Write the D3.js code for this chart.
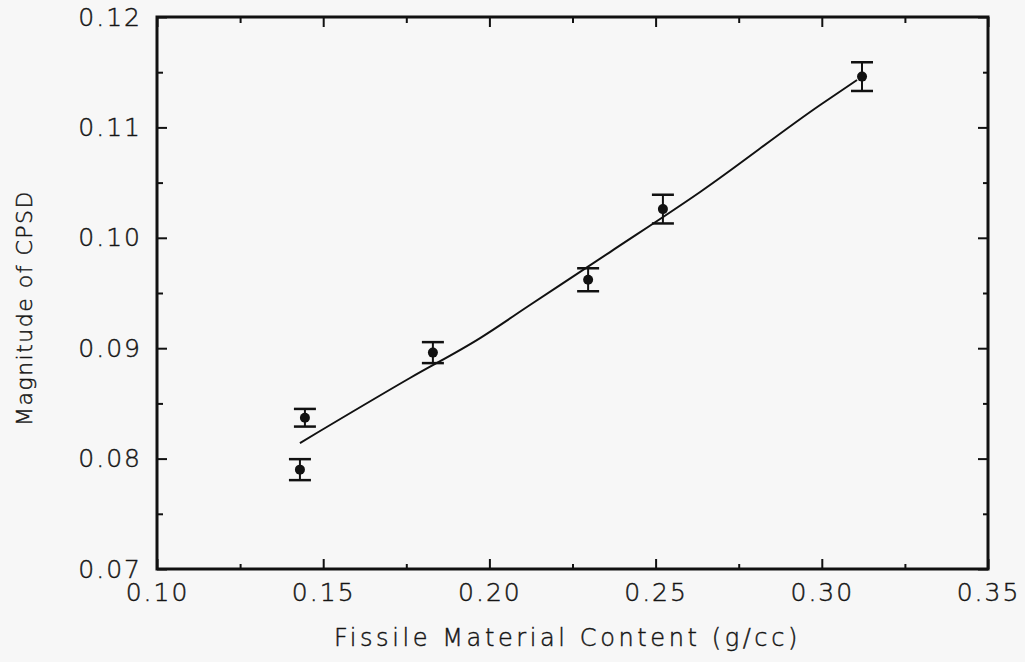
<!DOCTYPE html>
<html>
<head>
<meta charset="utf-8">
<script src="https://cdn.jsdelivr.net/npm/d3@7"></script>
<style>
  body { margin: 0; background: #f7f7f7; }
  svg { display: block; }
  text { font-family: "DejaVu Sans", sans-serif; font-weight: 200; fill: #151515; stroke: #151515; stroke-width: 0.45px; }
</style>
</head>
<body>
<svg id="chart" width="1025" height="662"></svg>
<script>
// measured points with error bars
var fissile = [0.1430, 0.1445, 0.1830, 0.2297, 0.2522, 0.3121];
var cpsd    = [0.0790, 0.0837, 0.0896, 0.0962, 0.1026, 0.1146];
var cpsdErr = [0.00095, 0.0008, 0.00095, 0.00104, 0.0013, 0.0013];

// fitted curve
var fitX = [0.1430, 0.1761, 0.1972, 0.2122, 0.2363, 0.2634, 0.2995, 0.3106];
var fitY = [0.08141, 0.08730, 0.09092, 0.09391, 0.09871, 0.10415, 0.11203, 0.11429];

var xTicks = [0.10, 0.15, 0.20, 0.25, 0.30, 0.35];
var xMinor = [0.125, 0.175, 0.225, 0.275, 0.325];
var yTicks = [0.07, 0.08, 0.09, 0.10, 0.11, 0.12];
var yMinor = [0.075, 0.085, 0.095, 0.105, 0.115];

var svg = d3.select("#chart"),
    margin = {top: 17, right: 37, bottom: 93, left: 157},
    width = +svg.attr("width") - margin.left - margin.right,
    height = +svg.attr("height") - margin.top - margin.bottom,
    g = svg.append("g").attr("transform", "translate(" + margin.left + "," + margin.top + ")");

var x = d3.scaleLinear().domain([0.10, 0.35]).range([0, width]);
var y = d3.scaleLinear().domain([0.07, 0.12]).range([height, 0]);

function styleAxis(sel) {
  sel.select(".domain").remove();
  sel.selectAll("line").attr("stroke", "#111").attr("stroke-width", 2);
  sel.selectAll("text")
    .style("font-size", "25px")
    .style("letter-spacing", "2px");
}

// major ticks + labels
g.append("g")
  .attr("transform", "translate(0," + height + ")")
  .call(d3.axisBottom(x).tickValues(xTicks).tickSize(-10).tickPadding(14).tickFormat(d3.format(".2f")))
  .call(styleAxis);
g.append("g")
  .call(d3.axisLeft(y).tickValues(yTicks).tickSize(-10).tickPadding(15).tickFormat(d3.format(".2f")))
  .call(styleAxis);
g.append("g")
  .call(d3.axisTop(x).tickValues(xTicks).tickSize(-10).tickFormat(""))
  .call(styleAxis);
g.append("g")
  .attr("transform", "translate(" + width + ",0)")
  .call(d3.axisRight(y).tickValues(yTicks).tickSize(-10).tickFormat(""))
  .call(styleAxis);

// minor ticks
g.append("g")
  .attr("transform", "translate(0," + height + ")")
  .call(d3.axisBottom(x).tickValues(xMinor).tickSize(-5).tickFormat(""))
  .call(styleAxis);
g.append("g")
  .call(d3.axisTop(x).tickValues(xMinor).tickSize(-6).tickFormat(""))
  .call(styleAxis);
g.append("g")
  .call(d3.axisLeft(y).tickValues(yMinor).tickSize(-6).tickFormat(""))
  .call(styleAxis);
g.append("g")
  .attr("transform", "translate(" + width + ",0)")
  .call(d3.axisRight(y).tickValues(yMinor).tickSize(-5).tickFormat(""))
  .call(styleAxis);

// frame
g.append("rect")
  .attr("width", width)
  .attr("height", height)
  .attr("fill", "none")
  .attr("stroke", "#111")
  .attr("stroke-width", 3);

// fit line
var fit = fitX.map(function(d, i) { return [d, fitY[i]]; });
g.append("path")
  .datum(fit)
  .attr("fill", "none")
  .attr("stroke", "#111")
  .attr("stroke-width", 2)
  .attr("d", d3.line()
    .x(function(d) { return x(d[0]); })
    .y(function(d) { return y(d[1]); })
    .curve(d3.curveMonotoneX));

// error bars and points
var pts = fissile.map(function(d, i) { return {x: d, y: cpsd[i], e: cpsdErr[i]}; });
var pg = g.append("g").selectAll("g")
  .data(pts)
  .enter().append("g");

pg.append("line")
  .attr("x1", function(d) { return x(d.x); })
  .attr("x2", function(d) { return x(d.x); })
  .attr("y1", function(d) { return y(d.y - d.e); })
  .attr("y2", function(d) { return y(d.y + d.e); })
  .attr("stroke", "#111").attr("stroke-width", 2);

[-1, 1].forEach(function(s) {
  pg.append("line")
    .attr("x1", function(d) { return x(d.x) - 11; })
    .attr("x2", function(d) { return x(d.x) + 11; })
    .attr("y1", function(d) { return y(d.y + s * d.e); })
    .attr("y2", function(d) { return y(d.y + s * d.e); })
    .attr("stroke", "#111").attr("stroke-width", 2.5);
});

pg.append("circle")
  .attr("cx", function(d) { return x(d.x); })
  .attr("cy", function(d) { return y(d.y); })
  .attr("r", 5)
  .attr("fill", "#111");

// axis titles
svg.append("text")
  .attr("x", margin.left + width / 2 - 5)
  .attr("y", 646)
  .attr("text-anchor", "middle")
  .style("font-size", "24px")
  .style("letter-spacing", "3.6px")
  .text("Fissile Material Content (g/cc)");

svg.append("text")
  .attr("transform", "translate(32," + (margin.top + height / 2 + 15) + ") rotate(-90)")
  .attr("text-anchor", "middle")
  .style("font-size", "22px")
  .style("letter-spacing", "1.5px")
  .text("Magnitude of CPSD");
</script>
</body>
</html>
